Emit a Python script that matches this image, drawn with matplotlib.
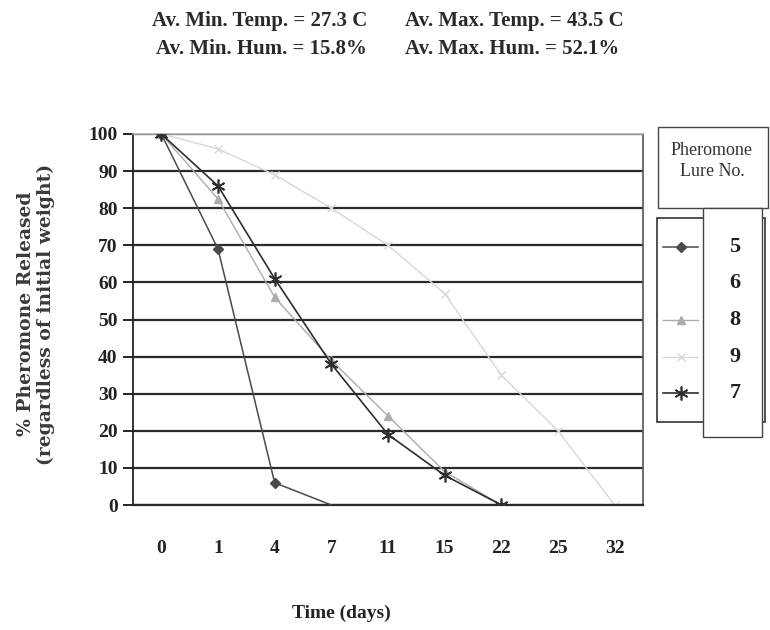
import matplotlib.pyplot as plt
from matplotlib.lines import Line2D
from matplotlib.patches import Rectangle

# data
days = ['0', '1', '4', '7', '11', '15', '22', '25', '32']
lure_labels = ['5', '6', '8', '9', '7']
lure5 = [100, 69, 6, 0]
lure6 = []
lure8 = [100, 82.5, 56, 39, 24, 9, 0]
lure9 = [100, 96, 89, 80, 70, 57, 35, 20, 0]
lure7 = [100, 86, 61, 38, 19, 8, 0]

header_left = ['Av. Min. Temp. = 27.3 C', 'Av. Min. Hum. = 15.8%']
header_right = ['Av. Max. Temp. = 43.5 C', 'Av. Max. Hum. = 52.1%']

plt.rcParams['font.family'] = ['Liberation Serif', 'DejaVu Serif']

W, H = 770, 630
fig = plt.figure(figsize=(W / 100, H / 100), dpi=100)
ax = fig.add_axes([133 / W, 1 - 505 / H, 510 / W, 371 / H])

def fx(px):
    return px / W

def fy(py):
    return 1 - py / H

# style per series: 5, 6, 8, 9, 7
styles = [
    dict(color='#4a4a4a', marker='D', ms=5, lw=1.1, zorder=4),
    dict(color='white', lw=0, zorder=1),
    dict(color='#acacac', marker='^', ms=6, lw=1.0, zorder=3),
    dict(color='#d8d8d8', marker='x', ms=6, mew=1.0, lw=1.0, zorder=2),
    dict(color='#2e2e2e', marker=(6, 2, 0), ms=10, mew=1.2, lw=1.2, zorder=5),
]
all_series = [lure5, lure6, lure8, lure9, lure7]

for vals, st in zip(all_series, styles):
    if not vals:
        continue
    st = dict(st)
    if vals is lure5:
        st['markevery'] = [0, 1, 2]
    ax.plot(range(len(vals)), vals, **st)

ax.set_xlim(-0.5, 8.5)
ax.set_ylim(0, 100)
ax.set_yticks(range(0, 101, 10))
ax.set_xticks(range(len(days)))
ax.set_xticklabels(days)
ax.tick_params(axis='x', length=0, pad=25, labelsize=14)
ax.tick_params(axis='y', length=7, width=1.2, pad=4, labelsize=14, direction='out')
for lab in ax.get_xticklabels() + ax.get_yticklabels():
    lab.set_fontweight('bold')
    lab.set_color('#222222')

ax.yaxis.grid(True, color='#2b2b2b', lw=1.6)
ax.set_axisbelow(True)
ax.spines['left'].set_color('#222222')
ax.spines['left'].set_linewidth(1.3)
ax.spines['bottom'].set_color('#2b2b2b')
ax.spines['bottom'].set_linewidth(1.6)
ax.spines['right'].set_color('#555555')
ax.spines['right'].set_linewidth(1.2)
ax.spines['top'].set_color('#b0b0b0')
ax.spines['top'].set_linewidth(1.2)

# axis labels
fig.text(fx(36), fy(314), '% Pheromone Released\n(regardless of initial weight)',
         rotation=90, ha='center', va='center', fontsize=13.5, fontweight='bold',
         family='DejaVu Serif', color='#3a3a3a', linespacing=1.1)
fig.text(fx(341), fy(613), 'Time (days)', ha='center', va='center',
         fontsize=14, fontweight='bold', color='#222222')

# header
for i, (l, r) in enumerate(zip(header_left, header_right)):
    y = fy(21 + i * 28)
    fig.text(fx(367), y, l, ha='right', va='center', fontsize=15,
             fontweight='bold', color='#2a2a2a')
    fig.text(fx(405), y, r, ha='left', va='center', fontsize=15,
             fontweight='bold', color='#2a2a2a')

# legend boxes
fig.add_artist(Rectangle((fx(658), fy(208)), 110 / W, 81 / H, transform=fig.transFigure,
                         facecolor='white', edgecolor='#444444', lw=1.0))
fig.add_artist(Rectangle((fx(657), fy(422)), 108 / W, 204 / H, transform=fig.transFigure,
                         facecolor='white', edgecolor='#333333', lw=1.2, zorder=2))
fig.add_artist(Rectangle((fx(703), fy(437)), 59 / W, 229 / H, transform=fig.transFigure,
                         facecolor='white', edgecolor='#444444', lw=1.0, zorder=3))
fig.text(fx(712), fy(161), 'Pheromone\nLure No.', ha='center', va='center',
         fontsize=13, color='#333333', linespacing=1.3)

label_y = [247, 283, 320, 357, 393]
for lab, st, py in zip(lure_labels, styles, label_y):
    st = dict(st)
    st.pop('zorder', None)
    fig.add_artist(Line2D([fx(663), fx(681), fx(698)], [fy(py)] * 3,
                          transform=fig.transFigure, markevery=[1], zorder=4, **st))
    fig.text(fx(735), fy(py), lab, ha='center', va='center', fontsize=16,
             fontweight='bold', color='#222222', zorder=4)

fig.savefig('out.png', dpi=100)
